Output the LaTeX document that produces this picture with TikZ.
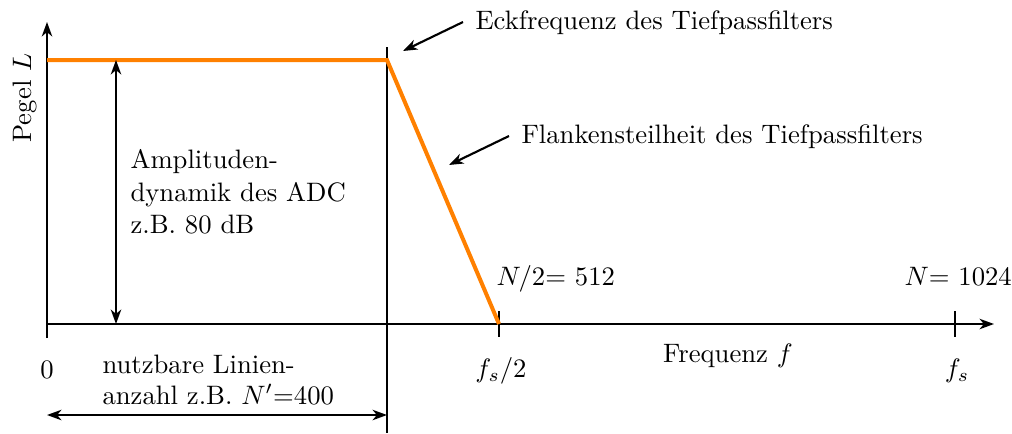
\documentclass[tikz,border=0pt]{standalone}
\usetikzlibrary{arrows.meta}
\definecolor{filt}{RGB}{255,128,0}
\begin{document}
\begin{tikzpicture}[x=0.375pt,y=-0.375pt,
  ln/.style={line width=0.8pt},
  tip/.tip={Stealth[length=5.4pt,width=3.9pt,inset=1.6pt]},
  arr/.style={ln,-tip},
  darr/.style={ln,tip-tip},
  curve/.style={line width=1.5pt,filt},
  lbl/.style={inner sep=0pt,font=\normalsize}]
\useasboundingbox (0,0) rectangle (1012,433);
% axes
\coordinate (O) at (47,324);
\coordinate (ytop) at (47,22);
\coordinate (ybot) at (47,338);
\coordinate (xend) at (994,324);
\draw[arr] (ybot) -- (ytop);
\draw[arr] (O) -- (xend);
% ticks
\coordinate (t1a) at (499,311); \coordinate (t1b) at (499,337);
\coordinate (t2a) at (955,311); \coordinate (t2b) at (955,337);
\draw[ln] (t1a) -- (t1b);
\draw[ln] (t2a) -- (t2b);
% corner line
\coordinate (vtop) at (387,47);
\coordinate (vbot) at (387,433);
\draw[ln] (vtop) -- (vbot);
% filter curve
\coordinate (c0) at (47,60);
\coordinate (c1) at (387,60);
\coordinate (c2) at (499,324);
\draw[curve,line join=miter] (c0) -- (c1) -- (c2);
% amplitude arrow
\coordinate (a1) at (116,60);
\coordinate (a2) at (116,324);
\draw[darr] (a1) -- (a2);
% lines arrow
\coordinate (h1) at (47,415);
\coordinate (h2) at (387,415);
\draw[darr] (h1) -- (h2);
% labels
\node[lbl,rotate=90,anchor=base] (pegel) at (31,98) {Pegel $L$};
\node[lbl,anchor=base west] (eck) at (475,29) {Eckfrequenz des Tiefpassfilters};
\node[lbl,anchor=base west] (flank) at (521,143) {Flankensteilheit des Tiefpassfilters};
\coordinate (e1) at (463,22); \coordinate (e2) at (403,51);
\draw[arr] (e1) -- (e2);
\coordinate (f1) at (509,136); \coordinate (f2) at (449,165);
\draw[arr] (f1) -- (f2);
\node[lbl,anchor=base west] (amp1) at (130,168) {Amplituden-};
\node[lbl,anchor=base west] (amp2) at (130,201) {dynamik des ADC};
\node[lbl,anchor=base west] (amp3) at (130,233) {z.B. 80 dB};
\node[lbl,anchor=base] (zero) at (47,378) {0};
\node[lbl,anchor=base west] (nutz1) at (102,373) {nutzbare Linien-};
\node[lbl,anchor=base west] (nutz2) at (102,404) {anzahl z.B. $N'$=400};
\node[lbl,anchor=base] (fs2) at (501,377) {$f_s/2$};
\node[lbl,anchor=base] (fs) at (957,377) {$f_s$};
\node[lbl,anchor=base] (freq) at (728,362) {Frequenz $f$};
\node[lbl,anchor=base west] (n2) at (496,285) {$N/2$= 512};
\node[lbl,anchor=base west] (n) at (904,285) {$N$= 1024};
\end{tikzpicture}
\end{document}
